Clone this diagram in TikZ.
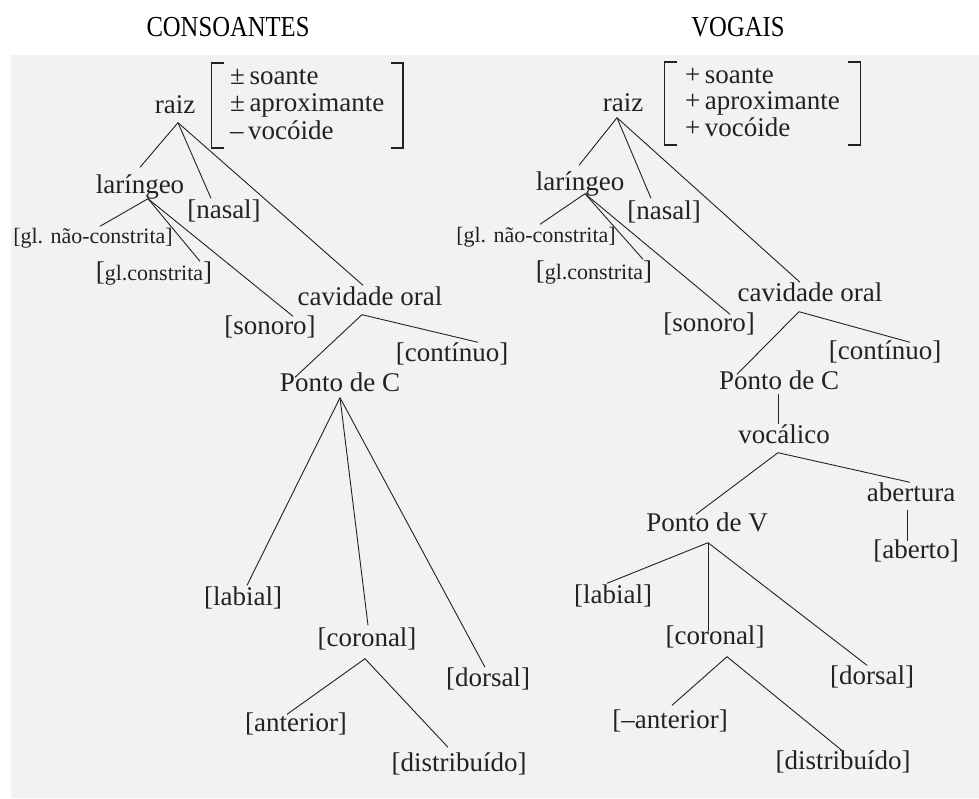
\documentclass[tikz,border=0pt]{standalone}
\usepackage{fontspec}
\setmainfont{Liberation Serif}
\usetikzlibrary{fit}

\definecolor{scan}{HTML}{F2F2F2}
\definecolor{ink}{HTML}{222222}

\begin{document}
\begin{tikzpicture}[x=1pt, y=-1pt,
                feature/.style={font=\fontsize{27}{30}\selectfont, text=ink, inner sep=1pt,
                                text height=18pt, text depth=5pt},
                small feature/.style={feature, font=\fontsize{22}{24}\selectfont,
                                text height=15pt, text depth=4pt},
                heading/.style={font=\fontsize{29}{32}\selectfont, inner sep=0pt,
                                text height=19pt, text depth=0pt},
                branch/.style={draw=ink, line width=0.9pt},
                bracket/.style={draw=ink, line width=1.3pt}]

                \useasboundingbox (0,0) rectangle (979,798);
                % scanned page
                \fill[scan] (11,55) rectangle (979,798);

                % headings
                \node[heading] (consoantes) at (228,27) {\scalebox{0.85}[1]{CONSOANTES}};
                \node[heading] (vogais) at (738,27) {\scalebox{0.85}[1]{VOGAIS}};

                % CONSOANTES tree
                \node[feature] (raizL) at (175,107) {raiz};
                \node[feature, anchor=west] (fL1) at (229,78) {±\,soante};
                \node[feature, anchor=west] (fL2) at (229,105) {±\,aproximante};
                \node[feature, anchor=west] (fL3) at (229,133) {–\,vocóide};
                \node[fit={(fL1) (fL2) (fL3)}, inner xsep=17pt, inner ysep=2pt] (featL) {};
                \draw[bracket] ([shift={(12,0)}]featL.north west) -- (featL.north west)
                    -- (featL.south west) -- ([shift={(12,0)}]featL.south west);
                \draw[bracket] ([shift={(-12,0)}]featL.north east) -- (featL.north east)
                    -- (featL.south east) -- ([shift={(-12,0)}]featL.south east);

                \node[feature] (larL) at (140,187) {laríngeo};
                \node[feature] (nasalL) at (224,212) {[nasal]};
                \node[small feature] (glncL) at (93,238) {[gl. não-constrita]};
                \node[feature] (glcL) at (154,274) {[{\fontsize{22}{24}\selectfont gl.constrita}]};
                \node[feature] (cavL) at (370,299) {cavidade oral};
                \node[feature] (sonL) at (270,328) {[sonoro]};
                \node[feature] (contL) at (452,355) {[contínuo]};
                \node[feature] (pcL) at (340,385) {Ponto de C};
                \node[feature] (labL) at (243,599) {[labial]};
                \node[feature] (corL) at (367,640) {[coronal]};
                \node[feature] (dorL) at (488,680) {[dorsal]};
                \node[feature] (antL) at (296,725) {[anterior]};
                \node[feature] (disL) at (459,765) {[distribuído]};

                \draw[branch] ([shift={(3,3)}]raizL.south) -- ([shift={(0,-7)}]larL.north);
                \draw[branch] ([shift={(3,3)}]raizL.south) -- ([shift={(-13,-1)}]nasalL.north);
                \draw[branch] ([shift={(3,3)}]raizL.south) -- ([shift={(-7,-1)}]cavL.north);
                \draw[branch] ([shift={(8,-1)}]larL.south) -- ([shift={(7,-1)}]glncL.north);
                \draw[branch] ([shift={(8,-1)}]larL.south) -- ([shift={(46,0)}]glcL.north);
                \draw[branch] ([shift={(8,-1)}]larL.south) -- ([shift={(23,1)}]sonL.north);
                \draw[branch] ([shift={(-8,3)}]cavL.south) -- ([shift={(-45,5)}]pcL.north);
                \draw[branch] ([shift={(-8,3)}]cavL.south) -- ([shift={(26,0)}]contL.north);
                \draw[branch] (pcL.south) -- ([shift={(4,-1)}]labL.north);
                \draw[branch] (pcL.south) -- ([shift={(1,-2)}]corL.north);
                \draw[branch] (pcL.south) -- ([shift={(-3,0)}]dorL.north);
                \draw[branch] ([shift={(-2,6)}]corL.south) -- ([shift={(-9,2)}]antL.north);
                \draw[branch] ([shift={(-2,6)}]corL.south) -- ([shift={(-11,-5)}]disL.north);

                % VOGAIS tree
                \node[feature] (raizR) at (623,105) {raiz};
                \node[feature, anchor=west] (fR1) at (684,77) {+\,soante};
                \node[feature, anchor=west] (fR2) at (684,103) {+\,aproximante};
                \node[feature, anchor=west] (fR3) at (684,130) {+\,vocóide};
                \node[fit={(fR1) (fR2) (fR3)}, inner xsep=19pt, inner ysep=2pt] (featR) {};
                \draw[bracket] ([shift={(12,0)}]featR.north west) -- (featR.north west)
                    -- (featR.south west) -- ([shift={(12,0)}]featR.south west);
                \draw[bracket] ([shift={(-12,0)}]featR.north east) -- (featR.north east)
                    -- (featR.south east) -- ([shift={(-12,0)}]featR.south east);

                \node[feature] (larR) at (580,184) {laríngeo};
                \node[feature] (nasalR) at (664,213) {[nasal]};
                \node[small feature] (glncR) at (536,237) {[gl. não-constrita]};
                \node[feature] (glcR) at (594,273) {[{\fontsize{22}{24}\selectfont gl.constrita}]};
                \node[feature] (cavR) at (810,295) {cavidade oral};
                \node[feature] (sonR) at (709,325) {[sonoro]};
                \node[feature] (contR) at (885,353) {[contínuo]};
                \node[feature] (pcR) at (779,383) {Ponto de C};
                \node[feature] (vocR) at (784,437) {vocálico};
                \node[feature] (aberturaR) at (911,495) {abertura};
                \node[feature] (abertoR) at (916,552) {[aberto]};
                \node[feature] (pvR) at (707,525) {Ponto de V};
                \node[feature] (labR) at (613,597) {[labial]};
                \node[feature] (corR) at (715,638) {[coronal]};
                \node[feature] (dorR) at (872,678) {[dorsal]};
                \node[feature] (antR) at (670,722) {[–anterior]};
                \node[feature] (disR) at (843,763) {[distribuído]};

                \draw[branch] ([shift={(-6,0)}]raizR.south) -- ([shift={(-1,-6)}]larR.north);
                \draw[branch] ([shift={(-6,0)}]raizR.south) -- ([shift={(-13,-2)}]nasalR.north);
                \draw[branch] ([shift={(-6,0)}]raizR.south) -- ([shift={(-10,0)}]cavR.north);
                \draw[branch] ([shift={(5,-3)}]larR.south) -- ([shift={(4,-2)}]glncR.north);
                \draw[branch] ([shift={(5,-3)}]larR.south) -- ([shift={(49,-1)}]glcR.north);
                \draw[branch] ([shift={(5,-3)}]larR.south) -- ([shift={(21,2)}]sonR.north);
                \draw[branch] ([shift={(-11,4)}]cavR.south) -- ([shift={(-42,4)}]pcR.north);
                \draw[branch] ([shift={(-11,4)}]cavR.south) -- ([shift={(25,2)}]contR.north);
                \draw[branch] ([shift={(-1,-2)}]pcR.south) -- ([shift={(-6,0)}]vocR.north);
                \draw[branch] ([shift={(-6,3)}]vocR.south) -- ([shift={(-11,2)}]pvR.north);
                \draw[branch] ([shift={(-6,3)}]vocR.south) -- ([shift={(-1,0)}]aberturaR.north);
                \draw[branch] ([shift={(-4,2)}]aberturaR.south) -- ([shift={(-9,2)}]abertoR.north);
                \draw[branch] ([shift={(1,5)}]pvR.south) -- ([shift={(-6,-1)}]labR.north);
                \draw[branch] ([shift={(1,5)}]pvR.south) -- ([shift={(-7,6)}]corR.north);
                \draw[branch] ([shift={(1,5)}]pvR.south) -- ([shift={(-5,0)}]dorR.north);
                \draw[branch] ([shift={(12,6)}]corR.south) -- ([shift={(2,-4)}]antR.north);
                \draw[branch] ([shift={(12,6)}]corR.south) -- ([shift={(0,1)}]disR.north);
\end{tikzpicture}
\end{document}
